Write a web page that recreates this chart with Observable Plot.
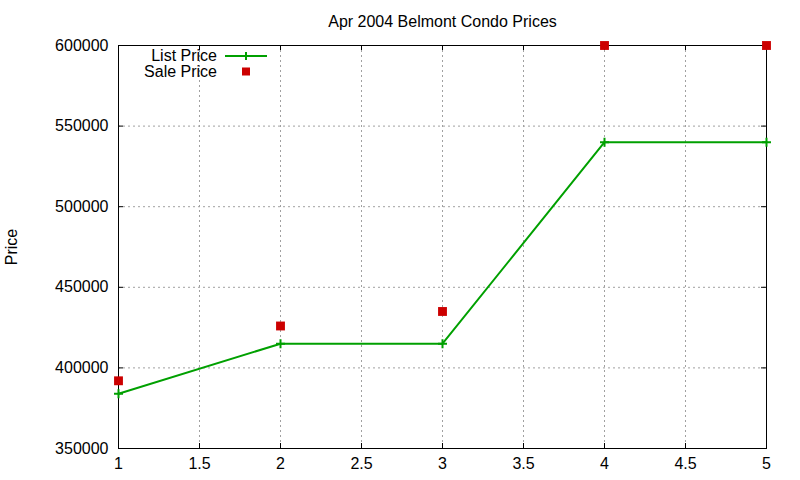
<!DOCTYPE html>
<html>
<head>
<meta charset="utf-8">
<script src="https://cdn.jsdelivr.net/npm/d3@7"></script>
<script src="https://cdn.jsdelivr.net/npm/@observablehq/plot@0.6"></script>
<style>
  html, body { margin: 0; padding: 0; background: #fff; }
  #chart { position: relative; width: 800px; height: 480px; }
  svg { font-family: "Liberation Sans", Arial, sans-serif; }
</style>
</head>
<body>
<div id="chart"></div>
<script>
const title = "Apr 2004 Belmont Condo Prices";
const yLabel = "Price";
const xs = [1, 2, 3, 4, 5];
const listPrice = [384000, 415000, 415000, 540000, 540000];
const salePrice = [392000, 426000, 435000, 600000, 600000];
const xTicks = [1, 1.5, 2, 2.5, 3, 3.5, 4, 4.5, 5];
const yTicks = [350000, 400000, 450000, 500000, 550000, 600000];
const seriesNames = ["List Price", "Sale Price"];

const listData = xs.map((x, i) => ({x, y: listPrice[i]}));
const saleData = xs.map((x, i) => ({x, y: salePrice[i]}));

const W = 800, H = 480, mL = 118, mR = 34, mT = 45, mB = 32;
const fw = W - mL - mR, fh = H - mT - mB;
const green = "#00a000", red = "#cc0000";

const chart = Plot.plot({
  width: W, height: H,
  marginLeft: mL, marginRight: mR, marginTop: mT, marginBottom: mB,
  style: {fontSize: "16px", fontFamily: '"Liberation Sans", Arial, sans-serif', background: "#fff", color: "#000"},
  x: {domain: [1, 5]},
  y: {domain: [350000, 600000]},
  marks: [
    Plot.gridX(xTicks, {stroke: "#a0a0a0", strokeOpacity: 1, strokeDasharray: "2,3"}),
    Plot.gridY(yTicks, {stroke: "#a0a0a0", strokeOpacity: 1, strokeDasharray: "2,3"}),
    Plot.axisX(xTicks, {tickSize: 0, tickPadding: 9, fontSize: 16, label: null, tickFormat: d => String(d)}),
    Plot.axisY(yTicks, {tickSize: 0, tickPadding: 10, fontSize: 16, label: null, tickFormat: d3.format("d")}),
    Plot.tickY(yTicks, {y: d => d, insetRight: fw - 5, stroke: "#000"}),
    Plot.tickY(yTicks, {y: d => d, insetLeft: fw - 5, stroke: "#000"}),
    Plot.tickX(xTicks, {x: d => d, insetTop: fh - 5, stroke: "#000"}),
    Plot.tickX(xTicks, {x: d => d, insetBottom: fh - 5, stroke: "#000"}),
    Plot.frame({stroke: "#000", strokeWidth: 1}),
    Plot.text([title], {frameAnchor: "top", dy: -24, fontSize: 16, lineAnchor: "middle"}),
    Plot.text([yLabel], {frameAnchor: "left", dx: -107, rotate: -90, fontSize: 16, lineAnchor: "middle", textAnchor: "middle"}),
    Plot.line(listData, {x: "x", y: "y", stroke: green, strokeWidth: 2}),
    Plot.dot(listData, {x: "x", y: "y", symbol: "plus", stroke: green, strokeWidth: 2, r: 3}),
    Plot.dot(saleData, {x: "x", y: "y", symbol: "square", fill: red, stroke: "none", r: 5})
  ]
});
document.getElementById("chart").appendChild(chart);

// Legend (inside plot, top-left)
const svg = d3.select(chart);
const lg = svg.append("g").attr("font-size", 16).attr("font-family", '"Liberation Sans", Arial, sans-serif');
const rows = [55, 71];
lg.selectAll("text").data(seriesNames).join("text")
  .attr("x", 217).attr("y", (d, i) => rows[i]).attr("dy", "0.35em")
  .attr("text-anchor", "end").attr("fill", "#000").text(d => d);
lg.append("line").attr("x1", 225).attr("x2", 267).attr("y1", 56).attr("y2", 56)
  .attr("stroke", green).attr("stroke-width", 2);
lg.append("path").attr("d", `M242,56h8M246,52v8`)
  .attr("stroke", green).attr("stroke-width", 2).attr("fill", "none");
lg.append("rect").attr("x", 242).attr("y", rows[1] - 3.5).attr("width", 8).attr("height", 8).attr("fill", red);
</script>
</body>
</html>
